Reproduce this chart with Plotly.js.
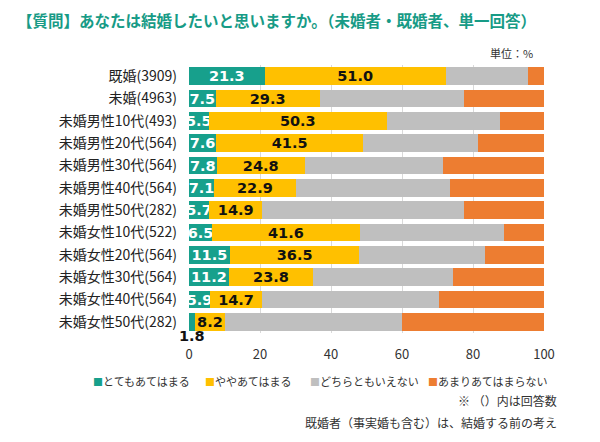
<!DOCTYPE html>
<html>
<head>
<meta charset="utf-8">
<script src="https://cdn.plot.ly/plotly-3.0.1.min.js"></script>
<style>
  html, body { margin: 0; padding: 0; background: #fff; }
</style>
</head>
<body>
<div id="chart" style="width:600px;height:442px;"></div>
<script>
// ---- data ----
const categories = [
  "既婚(3909)", "未婚(4963)",
  "未婚男性10代(493)", "未婚男性20代(564)", "未婚男性30代(564)", "未婚男性40代(564)", "未婚男性50代(282)",
  "未婚女性10代(522)", "未婚女性20代(564)", "未婚女性30代(564)", "未婚女性40代(564)", "未婚女性50代(282)"
];
const seriesNames = ["とてもあてはまる", "ややあてはまる", "どちらともいえない", "あまりあてはまらない"];
const veryMuch   = [21.3, 7.5, 5.5, 7.6, 7.8, 7.1, 5.7, 6.5, 11.5, 11.2, 5.9, 1.8];
const somewhat   = [51.0, 29.3, 50.3, 41.5, 24.8, 22.9, 14.9, 41.6, 36.5, 23.8, 14.7, 8.2];
const neither    = [23.3, 40.7, 31.8, 32.3, 38.9, 43.6, 56.8, 40.5, 35.3, 39.5, 49.7, 50.0];
const notMuch    = [4.4, 22.5, 12.4, 18.6, 28.5, 26.4, 22.6, 11.4, 16.7, 25.5, 29.7, 40.0];
const xTicks     = [0, 20, 40, 60, 80, 100];

const colors = ["#17A08C", "#FFC000", "#BFBFBF", "#ED7D31"];
const labelFont = "DejaVu Sans, Verdana, sans-serif";
const jpFont = "Noto Sans CJK JP, sans-serif";

const fmt = v => v.toFixed(1);
const smallLimit = 3; // segments too narrow get their label below the bar

const traces = [
  {
    name: seriesNames[0], y: categories, x: veryMuch, type: "bar", orientation: "h",
    marker: { color: colors[0] },
    text: veryMuch.map(v => v < smallLimit ? "" : fmt(v)),
    textposition: "inside", insidetextanchor: "middle", textangle: 0, constraintext: "none",
    textfont: { family: labelFont, size: 14.5, color: "#ffffff", weight: "bold" },
    hoverinfo: "x+name"
  },
  {
    name: seriesNames[1], y: categories, x: somewhat, type: "bar", orientation: "h",
    marker: { color: colors[1] },
    text: somewhat.map(fmt),
    textposition: "inside", insidetextanchor: "middle", textangle: 0, constraintext: "none",
    textfont: { family: labelFont, size: 14.5, color: "#111111", weight: "bold" },
    hoverinfo: "x+name"
  },
  {
    name: seriesNames[2], y: categories, x: neither, type: "bar", orientation: "h",
    marker: { color: colors[2] }, hoverinfo: "x+name"
  },
  {
    name: seriesNames[3], y: categories, x: notMuch, type: "bar", orientation: "h",
    marker: { color: colors[3] }, hoverinfo: "x+name"
  }
];

// plot area in px (for placing notes relative to it)
const M = { l: 189, r: 56, t: 65, b: 109 };
const W = 600, H = 442;
const pw = W - M.l - M.r, ph = H - M.t - M.b;
const px2paperX = px => (px - M.l) / pw;
const px2paperY = py => (H - M.b - py) / ph;

const annotations = [];
veryMuch.forEach((v, i) => {
  if (v < smallLimit) {
    annotations.push({
      x: v / 2, y: categories[i], xref: "x", yref: "y",
      text: fmt(v), showarrow: false, yshift: -14, xanchor: "center", borderpad: 0,
      font: { family: labelFont, size: 14.5, color: "#111111", weight: "bold" }
    });
  }
});

// legend row (square glyph + series name), laid out like the original
const legendLeft = [91, 203, 308, 426];
seriesNames.forEach((name, i) => {
  annotations.push({
    xref: "paper", yref: "paper", x: px2paperX(legendLeft[i]), y: px2paperY(381),
    xanchor: "left", yanchor: "middle", showarrow: false,
    text: '<span style="color:' + colors[i] + ';font-size:10px">■</span>' + name,
    font: { family: jpFont, size: 11, color: "#333333" }
  });
});

annotations.push(
  { xref: "paper", yref: "paper", x: 1, y: 1, xanchor: "right", yanchor: "bottom", xshift: -9, yshift: 2,
    text: "単位：%", showarrow: false, font: { family: jpFont, size: 11, color: "#333333" } },
  { xref: "paper", yref: "paper", x: px2paperX(559), y: px2paperY(400), xanchor: "right", yanchor: "middle",
    text: "※ （）内は回答数", showarrow: false, font: { family: jpFont, size: 12, color: "#333333" } },
  { xref: "paper", yref: "paper", x: px2paperX(559), y: px2paperY(422), xanchor: "right", yanchor: "middle",
    text: "既婚者（事実婚も含む）は、結婚する前の考え", showarrow: false, font: { family: jpFont, size: 12, color: "#333333" } }
);

const layout = {
  width: W, height: H,
  paper_bgcolor: "#ffffff", plot_bgcolor: "#ffffff",
  margin: { l: M.l, r: M.r, t: M.t, b: M.b, pad: 0 },
  barmode: "stack", bargap: 0.2,
  title: {
    text: "【質問】あなたは結婚したいと思いますか。（未婚者・既婚者、単一回答）",
    xref: "container", yref: "container", x: 17 / 600, y: 1 - 22 / 442,
    xanchor: "left", yanchor: "middle",
    font: { family: jpFont, size: 15.5, color: "#179B86", weight: "bold" }
  },
  xaxis: {
    range: [0, 100], tickvals: xTicks, ticktext: xTicks.map(String),
    showgrid: true, gridcolor: "#D9D9D9", gridwidth: 1, zeroline: false,
    showline: false, ticks: "", ticklabelstandoff: 12,
    tickfont: { family: jpFont, size: 13, color: "#333333" }, fixedrange: true
  },
  yaxis: {
    type: "category", autorange: "reversed", showgrid: false, zeroline: false,
    ticks: "", ticklabelstandoff: 11,
    tickfont: { family: jpFont, size: 14, color: "#222222" }, fixedrange: true
  },
  showlegend: false,
  annotations: annotations
};

Plotly.newPlot("chart", traces, layout, { displayModeBar: false, staticPlot: true });
</script>
</body>
</html>
